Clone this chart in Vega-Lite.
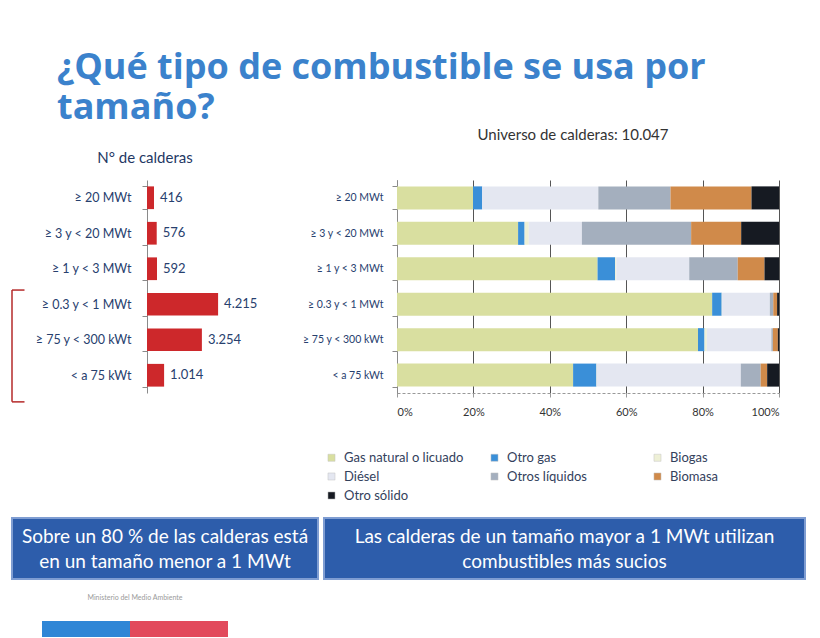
{
  "$schema": "https://vega.github.io/schema/vega-lite/v6.json",
  "padding": {"left": 11, "top": 50, "right": 0, "bottom": 0},
  "background": "white",
  "title": {
    "text": ["¿Qué tipo de combustible se usa por", "tamaño?"],
    "anchor": "start", "frame": "bounds", "font": "Open Sans", "fontSize": 36, "fontWeight": "bold",
    "color": "#3b82cc", "lineHeight": 40, "dx": 46, "offset": 1
  },
  "datasets": {
    "calderas": [
      {"tam": "≥ 20 MWt", "n": 416},
      {"tam": "≥ 3 y < 20 MWt", "n": 576},
      {"tam": "≥ 1 y < 3 MWt", "n": 592},
      {"tam": "≥ 0.3 y < 1 MWt", "n": 4215},
      {"tam": "≥ 75 y < 300 kWt", "n": 3254},
      {"tam": "< a 75 kWt", "n": 1014}
    ],
    "mix": [
      {"tam": "≥ 20 MWt", "comb": "Gas natural o licuado", "o": 1, "pct": 19.9},
      {"tam": "≥ 20 MWt", "comb": "Otro gas", "o": 2, "pct": 2.4},
      {"tam": "≥ 20 MWt", "comb": "Biogas", "o": 3, "pct": 0},
      {"tam": "≥ 20 MWt", "comb": "Diésel", "o": 4, "pct": 30.4},
      {"tam": "≥ 20 MWt", "comb": "Otros líquidos", "o": 5, "pct": 18.9},
      {"tam": "≥ 20 MWt", "comb": "Biomasa", "o": 6, "pct": 21.2},
      {"tam": "≥ 20 MWt", "comb": "Otro sólido", "o": 7, "pct": 7.2},
      {"tam": "≥ 3 y < 20 MWt", "comb": "Gas natural o licuado", "o": 1, "pct": 31.7},
      {"tam": "≥ 3 y < 20 MWt", "comb": "Otro gas", "o": 2, "pct": 1.7},
      {"tam": "≥ 3 y < 20 MWt", "comb": "Biogas", "o": 3, "pct": 1.1},
      {"tam": "≥ 3 y < 20 MWt", "comb": "Diésel", "o": 4, "pct": 13.9},
      {"tam": "≥ 3 y < 20 MWt", "comb": "Otros líquidos", "o": 5, "pct": 28.6},
      {"tam": "≥ 3 y < 20 MWt", "comb": "Biomasa", "o": 6, "pct": 13.1},
      {"tam": "≥ 3 y < 20 MWt", "comb": "Otro sólido", "o": 7, "pct": 9.9},
      {"tam": "≥ 1 y < 3 MWt", "comb": "Gas natural o licuado", "o": 1, "pct": 52.5},
      {"tam": "≥ 1 y < 3 MWt", "comb": "Otro gas", "o": 2, "pct": 4.6},
      {"tam": "≥ 1 y < 3 MWt", "comb": "Biogas", "o": 3, "pct": 0.3},
      {"tam": "≥ 1 y < 3 MWt", "comb": "Diésel", "o": 4, "pct": 19.1},
      {"tam": "≥ 1 y < 3 MWt", "comb": "Otros líquidos", "o": 5, "pct": 12.7},
      {"tam": "≥ 1 y < 3 MWt", "comb": "Biomasa", "o": 6, "pct": 7.0},
      {"tam": "≥ 1 y < 3 MWt", "comb": "Otro sólido", "o": 7, "pct": 3.8},
      {"tam": "≥ 0.3 y < 1 MWt", "comb": "Gas natural o licuado", "o": 1, "pct": 82.5},
      {"tam": "≥ 0.3 y < 1 MWt", "comb": "Otro gas", "o": 2, "pct": 2.5},
      {"tam": "≥ 0.3 y < 1 MWt", "comb": "Biogas", "o": 3, "pct": 0.1},
      {"tam": "≥ 0.3 y < 1 MWt", "comb": "Diésel", "o": 4, "pct": 12.5},
      {"tam": "≥ 0.3 y < 1 MWt", "comb": "Otros líquidos", "o": 5, "pct": 0.9},
      {"tam": "≥ 0.3 y < 1 MWt", "comb": "Biomasa", "o": 6, "pct": 1.0},
      {"tam": "≥ 0.3 y < 1 MWt", "comb": "Otro sólido", "o": 7, "pct": 0.5},
      {"tam": "≥ 75 y < 300 kWt", "comb": "Gas natural o licuado", "o": 1, "pct": 78.8},
      {"tam": "≥ 75 y < 300 kWt", "comb": "Otro gas", "o": 2, "pct": 1.7},
      {"tam": "≥ 75 y < 300 kWt", "comb": "Biogas", "o": 3, "pct": 0.6},
      {"tam": "≥ 75 y < 300 kWt", "comb": "Diésel", "o": 4, "pct": 16.9},
      {"tam": "≥ 75 y < 300 kWt", "comb": "Otros líquidos", "o": 5, "pct": 0.4},
      {"tam": "≥ 75 y < 300 kWt", "comb": "Biomasa", "o": 6, "pct": 1.3},
      {"tam": "≥ 75 y < 300 kWt", "comb": "Otro sólido", "o": 7, "pct": 0.3},
      {"tam": "< a 75 kWt", "comb": "Gas natural o licuado", "o": 1, "pct": 46.1},
      {"tam": "< a 75 kWt", "comb": "Otro gas", "o": 2, "pct": 6.1},
      {"tam": "< a 75 kWt", "comb": "Biogas", "o": 3, "pct": 0.1},
      {"tam": "< a 75 kWt", "comb": "Diésel", "o": 4, "pct": 37.7},
      {"tam": "< a 75 kWt", "comb": "Otros líquidos", "o": 5, "pct": 5.2},
      {"tam": "< a 75 kWt", "comb": "Biomasa", "o": 6, "pct": 1.7},
      {"tam": "< a 75 kWt", "comb": "Otro sólido", "o": 7, "pct": 3.1}
    ]
  },
  "vconcat": [
    {
      "hconcat": [
        {
          "width": 25, "height": 213,
          "data": {"values": [{"grupo": "< 1 MWt", "inicio": 3.1, "fin": 6.25}]},
          "encoding": {},
          "layer": [
            {
              "mark": {"type": "rule", "color": "#b52a2a", "strokeWidth": 1.5},
              "encoding": {
                "x": {"datum": 0, "type": "quantitative", "scale": {"domain": [0, 2]}, "axis": null},
                "y": {"field": "inicio", "type": "quantitative", "scale": {"domain": [0, 6], "reverse": true, "nice": false, "zero": false}, "axis": null},
                "y2": {"field": "fin"}
              }
            },
            {
              "mark": {"type": "rule", "color": "#b52a2a", "strokeWidth": 1.5},
              "encoding": {
                "x": {"datum": 0, "type": "quantitative"},
                "x2": {"datum": 1},
                "y": {"field": "inicio", "type": "quantitative"}
              }
            },
            {
              "mark": {"type": "rule", "color": "#b52a2a", "strokeWidth": 1.5},
              "encoding": {
                "x": {"datum": 0, "type": "quantitative"},
                "x2": {"datum": 1},
                "y": {"field": "fin", "type": "quantitative"}
              }
            }
          ]
        },
        {
          "width": 140, "height": 213,
          "title": {"text": "N° de calderas", "anchor": "middle", "frame": "group", "dx": -72, "offset": 8, "fontSize": 15, "fontWeight": "normal", "color": "#1f3864"},
          "data": {"name": "calderas"},
          "encoding": {
            "y": {
              "field": "tam", "type": "nominal",
              "sort": ["≥ 20 MWt", "≥ 3 y < 20 MWt", "≥ 1 y < 3 MWt", "≥ 0.3 y < 1 MWt", "≥ 75 y < 300 kWt", "< a 75 kWt"],
              "scale": {"paddingInner": 0.36, "paddingOuter": 0.18},
              "axis": {"title": null, "tickBand": "extent", "tickSize": 5, "labelPadding": 11, "domainColor": "#8a8a8a", "tickColor": "#8a8a8a", "labelColor": "#27406e", "labelFontSize": 12.5}
            },
            "x": {"field": "n", "type": "quantitative", "scale": {"domain": [0, 8300], "nice": false}, "axis": null}
          },
          "layer": [
            {"mark": {"type": "bar", "color": "#cd282b"}},
            {"mark": {"type": "text", "align": "left", "dx": 6, "fontSize": 13, "color": "#27406e"},
             "encoding": {"text": {"field": "n", "type": "quantitative", "format": ",d"}}}
          ]
        },
        {
          "width": 382, "height": 213,
          "title": {"text": "Universo de calderas: 10.047", "anchor": "middle", "frame": "group", "dx": -15, "offset": 32, "fontSize": 15, "fontWeight": "normal", "color": "#333333"},
          "data": {"name": "mix"},
          "mark": {"type": "bar"},
          "encoding": {
            "y": {
              "field": "tam", "type": "nominal",
              "sort": ["≥ 20 MWt", "≥ 3 y < 20 MWt", "≥ 1 y < 3 MWt", "≥ 0.3 y < 1 MWt", "≥ 75 y < 300 kWt", "< a 75 kWt"],
              "scale": {"paddingInner": 0.35, "paddingOuter": 0.18},
              "axis": {"title": null, "tickBand": "extent", "tickSize": 5, "labelPadding": 9, "domainColor": "#8a8a8a", "tickColor": "#8a8a8a", "labelColor": "#27406e", "labelFontSize": 10.5}
            },
            "x": {
              "field": "pct", "type": "quantitative", "stack": "normalize",
              "scale": {"domain": [0, 1], "nice": false},
              "axis": {"title": null, "format": ".0%", "values": [0, 0.2, 0.4, 0.6, 0.8, 1], "grid": true, "gridColor": "#555555", "gridWidth": 1, "domainColor": "#999999", "domainDash": [3, 2], "tickColor": "#999999", "tickSize": 4, "labelColor": "#333333", "labelFontSize": 11, "labelPadding": 9}
            },
            "order": {"field": "o", "type": "quantitative", "sort": "ascending"},
            "color": {
              "field": "comb", "type": "nominal",
              "scale": {
                "domain": ["Gas natural o licuado", "Otro gas", "Biogas", "Diésel", "Otros líquidos", "Biomasa", "Otro sólido"],
                "range": ["#d9dfa0", "#3a8fd8", "#eef0d6", "#e4e7f1", "#a4afbe", "#d08a4a", "#161a22"]
              },
              "legend": {
                "title": null, "orient": "none", "legendX": 313, "legendY": 271, "columns": 3, "direction": "horizontal",
                "gridAlign": "all", "columnPadding": 24, "rowPadding": 5,
                "symbolType": "square", "symbolSize": 50, "symbolStrokeColor": "#c4c4c4", "symbolStrokeWidth": 0.5,
                "labelFontSize": 13, "labelColor": "#33415c", "labelOffset": 6
              }
            }
          }
        }
      ],
      "spacing": 110,
      "bounds": "flush"
    },
    {
      "hconcat": [
        {
          "width": 306, "height": 61,
          "view": {"fill": "#2d5dab", "stroke": "#7f9dd2", "strokeWidth": 2},
          "data": {"values": [{"msg": "Sobre un 80 % de las calderas está\nen un tamaño menor a 1 MWt"}]},
          "mark": {"type": "text", "lineBreak": "\n", "color": "white", "fontSize": 19, "lineHeight": 25, "dy": -12, "font": "Lato"},
          "encoding": {"text": {"field": "msg"}}
        },
        {
          "width": 481, "height": 61,
          "view": {"fill": "#2d5dab", "stroke": "#7f9dd2", "strokeWidth": 2},
          "data": {"values": [{"msg": "Las calderas de un tamaño mayor a 1 MWt utilizan\ncombustibles más sucios"}]},
          "mark": {"type": "text", "lineBreak": "\n", "color": "white", "fontSize": 19, "lineHeight": 25, "dy": -12, "font": "Lato"},
          "encoding": {"text": {"field": "msg"}}
        }
      ],
      "spacing": 4
    },
    {
      "hconcat": [
        {
          "width": 1, "height": 1,
          "data": {"values": [{"t": ""}]},
          "mark": {"type": "text"},
          "encoding": {"text": {"field": "t"}}
        },
        {
          "width": 186, "height": 16,
          "title": {"text": "Ministerio del Medio Ambiente", "fontSize": 7, "fontWeight": "normal", "color": "#9a9a9a", "offset": 20, "anchor": "middle"},
          "data": {"values": [{"logo": "gob", "parte": "azul", "v": 88}, {"logo": "gob", "parte": "rojo", "v": 98}]},
          "mark": {"type": "bar"},
          "encoding": {
            "y": {"field": "logo", "type": "nominal", "scale": {"paddingInner": 0, "paddingOuter": 0}, "axis": null},
            "x": {"field": "v", "type": "quantitative", "stack": "zero", "scale": {"domain": [0, 186], "nice": false}, "axis": null},
            "color": {"field": "parte", "type": "nominal", "scale": {"domain": ["azul", "rojo"], "range": ["#2f86d6", "#e24a5c"]}, "legend": null},
            "order": {"field": "v", "type": "quantitative"}
          }
        }
      ],
      "spacing": 29
    }
  ],
  "spacing": 14,
  "resolve": {"scale": {"color": "independent"}},
  "config": {
    "view": {"stroke": null},
    "font": "Lato",
    "locale": {"number": {"decimal": ",", "thousands": ".", "grouping": [3], "currency": ["$", ""]}}
  }
}
